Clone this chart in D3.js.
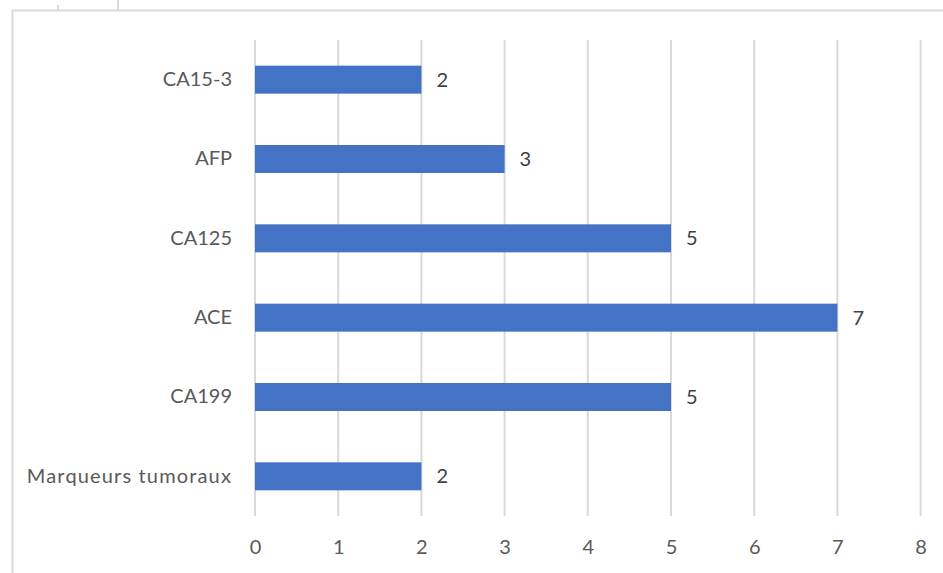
<!DOCTYPE html>
<html>
<head>
<meta charset="utf-8">
<script src="https://cdn.jsdelivr.net/npm/d3@7"></script>
<style>
  body { margin: 0; background: #fff; }
  svg { display: block; }
</style>
</head>
<body>
<script>
  // data, top to bottom as in the chart
  let categories = ["CA15-3", "AFP", "CA125", "ACE", "CA199", "Marqueurs tumoraux"];
  let values = [2, 3, 5, 7, 5, 2];
  let xTicks = [0, 1, 2, 3, 4, 5, 6, 7, 8];

  let width = 943, height = 573;
  let font = "Lato, 'Open Sans', sans-serif";
  let textColor = "#595959";

  let svg = d3.select("body").append("svg")
    .attr("width", width)
    .attr("height", height);

  // chart frame (cut off on the right and bottom)
  svg.append("path")
    .attr("d", "M12.5,573 V10.5 H943")
    .attr("fill", "none")
    .attr("stroke", "#d9d9d9")
    .attr("stroke-width", 2);

  // bits of the element above
  svg.append("line").attr("x1", 58).attr("x2", 58).attr("y1", 5).attr("y2", 10)
    .attr("stroke", "#d9d9d9").attr("stroke-width", 2);
  svg.append("line").attr("x1", 118).attr("x2", 118).attr("y1", 0).attr("y2", 10)
    .attr("stroke", "#d9d9d9").attr("stroke-width", 2);

  let xScale = d3.scaleLinear()
    .domain([0, 8])
    .range([255, 920.6]);

  let yScale = d3.scaleBand()
    .domain(categories)
    .range([40, 516])
    .paddingInner(0.647)
    .paddingOuter(0.3235);

  // vertical gridlines
  svg.append("g")
    .selectAll("line")
    .data(xTicks)
    .enter()
    .append("line")
      .attr("x1", (d) => xScale(d))
      .attr("x2", (d) => xScale(d))
      .attr("y1", 40)
      .attr("y2", 516)
      .attr("stroke", "#d9d9d9")
      .attr("stroke-width", 2);

  // x axis tick labels
  let xAxis = d3.axisBottom(xScale).tickValues(xTicks).tickSize(0).tickPadding(24);
  let gx = svg.append("g")
    .attr("transform", "translate(0, 516)")
    .call(xAxis);
  gx.select(".domain").remove();
  gx.selectAll("text")
    .attr("font-family", font)
    .attr("font-size", 20)
    .attr("fill", textColor);

  // y axis category labels
  let yAxis = d3.axisLeft(yScale).tickSize(0).tickPadding(23);
  let gy = svg.append("g")
    .attr("transform", "translate(255, 0)")
    .call(yAxis);
  gy.select(".domain").remove();
  gy.selectAll("text")
    .attr("font-family", font)
    .attr("font-size", 20)
    .attr("fill", textColor)
    .attr("letter-spacing", (d) => d.length > 10 ? 1.15 : 0);

  // bars
  svg.selectAll(".bar")
    .data(values)
    .enter()
    .append("rect")
      .attr("class", "bar")
      .attr("x", xScale(0))
      .attr("y", (d, i) => yScale(categories[i]))
      .attr("width", (d) => xScale(d) - xScale(0))
      .attr("height", yScale.bandwidth())
      .attr("fill", "#4472c4");

  // value labels
  svg.selectAll(".val")
    .data(values)
    .enter()
    .append("text")
      .attr("class", "val")
      .attr("x", (d) => xScale(d) + 15)
      .attr("y", (d, i) => yScale(categories[i]) + yScale.bandwidth() / 2)
      .attr("dy", "0.35em")
      .attr("font-family", font)
      .attr("font-size", 20)
      .attr("fill", "#404040")
      .text((d) => d);
</script>
</body>
</html>
